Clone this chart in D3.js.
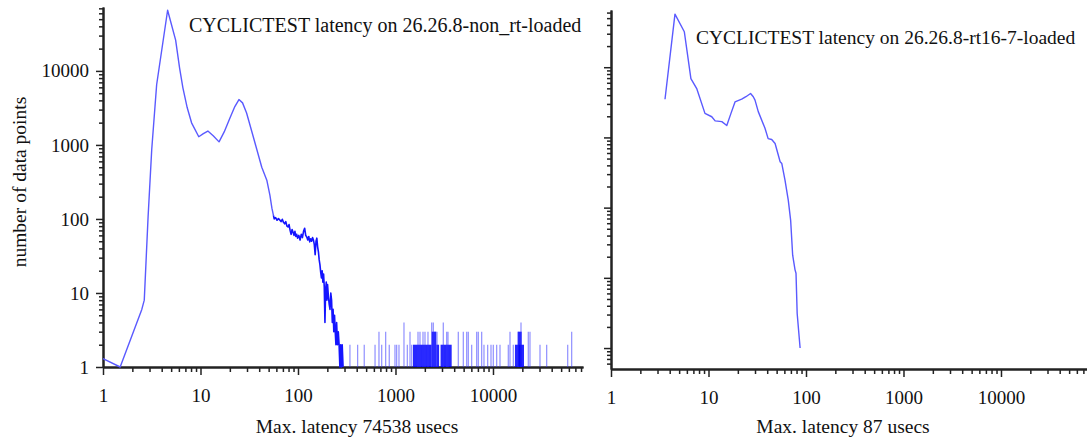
<!DOCTYPE html>
<html><head><meta charset="utf-8">
<script src="https://cdn.jsdelivr.net/npm/d3@7"></script>
<style>
html,body{margin:0;padding:0;background:#fff;}
svg{display:block;}
text{font-family:"Liberation Serif","Times New Roman",serif;fill:#111;}
</style></head>
<body>
<svg id="chart" width="1087" height="440"></svg>
<script>
// ---------- DATA ----------
const titleLeft = "CYCLICTEST latency on 26.26.8-non_rt-loaded";
const titleRight = "CYCLICTEST latency on 26.26.8-rt16-7-loaded";
const xLabelLeft = "Max. latency 74538 usecs";
const xLabelRight = "Max. latency 87 usecs";
const yLabel = "number of data points";
const majorTicks = [1, 10, 100, 1000, 10000];

// left: smooth part of the histogram
const leftLat   = [1, 1.5, 2.5, 2.65, 2.9, 3.16, 3.55, 4.6, 5.56, 6.1, 6.6, 7.3, 8.1, 9.6, 10.7, 11.9, 13.5, 15.5, 17.5, 20, 22.5, 24.8, 27, 29.7, 35, 42.5, 48, 51.5, 54, 56];
const leftCount = [1.3, 1, 6, 8, 106, 860, 6500, 66000, 26000, 11000, 5900, 3200, 1990, 1290, 1420, 1540, 1330, 1100, 1500, 2300, 3300, 4100, 3700, 2700, 1250, 500, 330, 210, 140, 112];

// left: noisy part of the histogram
const noisyLat   = [56,57,59,61,63,65,67,69,71,73,75,77,79,81,83,85,87,89,91,93,95,97,99,102,105,108,111,114,117,120,123,126,129,132,135,138,141,144,147,150,153,156,159,162,165,168,171,174,177,180,183,186,189,192,195,198,201,205,209,213,217,221,225,229,233,237,241,245,249,254,259,264,269,274,279,284,290];
const noisyCount = [112,100,104,96,101,97,92,99,90,86,92,80,78,84,70,62,72,66,60,68,58,62,55,60,52,62,56,68,75,60,57,52,58,49,54,50,56,52,45,33,50,55,42,36,28,24,19,16,20,14,18,12,4,11,14,8,13,9,7,6,10,8,4,6,3,5,3,2,4,2,3,2,1,2,1,2,1];

// left: isolated outliers (latency, count)
const spikeLat   = [341,409,478,617,677,722,793,863,988,1028,1086,1222,1322,1409,1466,1702,1784,1915,2007,2154,2351,2442,2542,2665,3092,3351,3455,4407,4961,5375,5581,6047,6805,7068,7656,8084,8823,9539,10072,10912,11799,14355,14943,16155,18050,19377,23020,23960,30350,35540,58390,64150];
const spikeCount = [2,2,2,2,3,2,3,2,2,2,2,4,2,3,2,3,3,3,3,3,4,4,3,3,4,3,3,3,3,3,3,2,3,3,3,2,2,2,2,2,2,2,3,2,3,4,3,3,2,2,2,3];

// left: dense runs of outliers (from, to, count)
const blockFrom  = [1510, 2350, 2620, 2900, 16800, 18000];
const blockTo    = [2350, 2620, 2800, 3770, 20800, 19700];
const blockCount = [2, 3, 2, 2, 2, 3];

// right histogram
const rightLat   = [3.58, 4.53, 5.65, 6.6, 7.6, 9.2, 10.8, 11.7, 13.7, 15.4, 17, 18.7, 21.9, 24.2, 27, 28.8, 30, 32.4, 37.9, 40.9, 44.5, 48.2, 54.3, 56.5, 60.9, 65.8, 69.6, 73, 77.2, 79, 81.2, 87];
const rightCount = [3500, 57000, 32000, 6900, 4900, 2200, 1970, 1720, 1680, 1480, 2200, 3200, 3500, 3800, 4220, 3800, 3400, 2330, 1360, 960, 935, 820, 450, 425, 247, 128, 66, 21, 13, 11.6, 3.1, 1];

// ---------- CHART ----------
const svg = d3.select("#chart");
const FONT = 19;

const xL = d3.scaleLog().domain([1, 83800]).range([103, 583]);
const yL = d3.scaleLog().domain([1, 73000]).range([367, 7]);
const xR = d3.scaleLog().domain([1, 83800]).range([611, 1091]);
const yR = d3.scaleLog().domain([0.503, 65300]).range([369, 10]);

function minorTicks(scale) {
  const [a, b] = scale.domain();
  const out = [];
  for (let e = -1; e <= 5; e++) {
    for (let m = 1; m <= 9; m++) {
      const v = m * Math.pow(10, e);
      if (v >= a * 0.999 && v <= b * 1.001 && m !== 1) out.push(v);
    }
  }
  return out;
}

function drawAxes(x, y, showYLabels) {
  const yBase = y.range()[0];
  const xBase = x.range()[0];
  const gx = svg.append("g").attr("transform", `translate(0,${yBase})`);
  gx.append("g").call(d3.axisBottom(x).tickValues(minorTicks(x)).tickSize(5).tickSizeOuter(0).tickFormat(""));
  gx.append("g").call(d3.axisBottom(x).tickValues(majorTicks).tickSize(8).tickSizeOuter(0).tickFormat(d3.format("d")))
    .call(g => g.selectAll("text").attr("y", 22).style("font-size", FONT + "px").style("font-family", "Liberation Serif"));
  const gy = svg.append("g").attr("transform", `translate(${xBase},0)`);
  gy.append("g").call(d3.axisLeft(y).tickValues(minorTicks(y)).tickSize(4).tickSizeOuter(0).tickFormat(""));
  const yMaj = majorTicks.filter(v => v >= y.domain()[0] && v <= y.domain()[1]);
  gy.append("g").call(d3.axisLeft(y).tickValues(yMaj).tickSize(7).tickSizeOuter(0).tickFormat(showYLabels ? d3.format("d") : ""))
    .call(g => g.selectAll("text").attr("x", -14).style("font-size", FONT + "px").style("font-family", "Liberation Serif"));
  svg.selectAll(".domain").attr("stroke", "#222").attr("stroke-width", 2);
  svg.selectAll(".tick line").attr("stroke", "#222").attr("stroke-width", 1.5);
  svg.selectAll(".tick text").attr("fill", "#111");
}

drawAxes(xL, yL, true);
drawAxes(xR, yR, false);

const zip = (a, b) => a.map((v, i) => [v, b[i]]);
const lineL = d3.line().x(d => xL(d[0])).y(d => yL(d[1]));
const lineR = d3.line().x(d => xR(d[0])).y(d => yR(d[1]));

// dense blocks
svg.append("g").selectAll("rect")
  .data(blockFrom.map((f, i) => ({ f, t: blockTo[i], c: blockCount[i] })))
  .join("rect")
  .attr("x", d => xL(d.f)).attr("width", d => xL(d.t) - xL(d.f))
  .attr("y", d => yL(d.c)).attr("height", d => yL(1) - yL(d.c))
  .attr("fill", "#0000ff").attr("fill-opacity", 0.85);

// isolated spikes
svg.append("g").selectAll("line")
  .data(zip(spikeLat, spikeCount))
  .join("line")
  .attr("x1", d => xL(d[0])).attr("x2", d => xL(d[0]))
  .attr("y1", yL(1)).attr("y2", d => yL(d[1]))
  .attr("stroke", "#3333ff").attr("stroke-opacity", 0.55).attr("stroke-width", 1.2);

svg.append("path").datum(zip(leftLat, leftCount))
  .attr("d", lineL).attr("fill", "none")
  .attr("stroke", "#5a5aff").attr("stroke-width", 1.4).attr("stroke-linejoin", "round");

svg.append("path").datum(zip(noisyLat, noisyCount))
  .attr("d", lineL).attr("fill", "none")
  .attr("stroke", "#1414ff").attr("stroke-width", 1.6).attr("stroke-linejoin", "round");

svg.append("path").datum(zip(rightLat, rightCount))
  .attr("d", lineR).attr("fill", "none")
  .attr("stroke", "#5a5aff").attr("stroke-width", 1.4).attr("stroke-linejoin", "round");

// titles & labels
svg.append("text").attr("x", 189).attr("y", 32).style("font-size", "20px").text(titleLeft);
svg.append("text").attr("x", 696).attr("y", 44).style("font-size", "19.5px").text(titleRight);
svg.append("text").attr("x", 357).attr("y", 433).attr("text-anchor", "middle").style("font-size", "19.5px").text(xLabelLeft);
svg.append("text").attr("x", 843).attr("y", 433).attr("text-anchor", "middle").style("font-size", "19.5px").text(xLabelRight);
svg.append("text").attr("transform", "translate(26,182) rotate(-90)").attr("text-anchor", "middle")
  .style("font-size", "19.5px").text(yLabel);
</script>
</body></html>
